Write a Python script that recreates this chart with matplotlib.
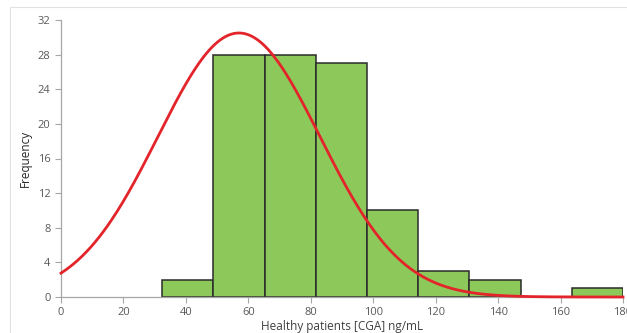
import numpy as np
import matplotlib.pyplot as plt
from matplotlib.patches import Rectangle

plt.rcParams['font.family'] = ['Open Sans', 'DejaVu Sans']

# histogram bins (ng/mL) and counts
bin_edges = [32.4, 48.8, 65.2, 81.6, 98.0, 114.4, 130.8, 147.2, 163.6, 180.0]
counts = [2, 28, 28, 27, 10, 3, 2, 0, 1]

# fitted normal curve
curve_mean = 57.0
curve_sd = 26.0
curve_peak = 30.5

x_ticks = [0, 20, 40, 60, 80, 100, 120, 140, 160, 180]
y_ticks = [0, 4, 8, 12, 16, 20, 24, 28, 32]

fig = plt.figure(figsize=(6.27, 3.33), dpi=100)
# light chart frame like the excel export
fig.patches.append(Rectangle((10 / 627, -0.01), 1.0, 1 - 7 / 333 + 0.01, transform=fig.transFigure,
                             fill=False, edgecolor='#e2e2e2', lw=0.8))
ax = fig.add_axes([61 / 627, 1 - 297 / 333, (623 - 61) / 627, (297 - 20) / 333])

left = bin_edges[:-1]
widths = np.diff(bin_edges)
ax.bar(left, counts, width=widths, align='edge', color='#8dc95a', edgecolor='#2b2b2b', linewidth=1.1, zorder=2)

xs = np.linspace(0, 180, 400)
ys = curve_peak * np.exp(-(xs - curve_mean) ** 2 / (2 * curve_sd ** 2))
ax.plot(xs, ys, color='#e3242b', lw=2, zorder=3, clip_on=False)

ax.set_xlim(0, 180)
ax.set_ylim(0, 32)
ax.set_xticks(x_ticks)
ax.set_yticks(y_ticks)

for s in ['top', 'right']:
    ax.spines[s].set_visible(False)
for s in ['left', 'bottom']:
    ax.spines[s].set_color('#a6a6a6')
    ax.spines[s].set_linewidth(0.9)
ax.tick_params(colors='#595959', labelsize=8, length=4, width=0.8)
ax.tick_params(axis='both', color='#a6a6a6')

ax.set_ylabel('Frequency', fontsize=8.5, color='#262626', labelpad=4)
ax.set_xlabel('Healthy patients [CGA] ng/mL', fontsize=8.5, color='#404040', labelpad=1)

fig.savefig('out.png', dpi=100)
